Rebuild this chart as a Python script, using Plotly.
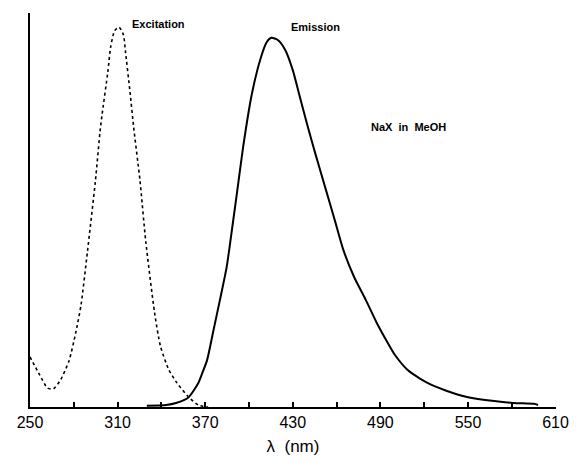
import plotly.graph_objects as go

# Excitation spectrum (dotted)
exc_nm = [250, 256.7, 262, 266, 271, 276.7, 281.3, 285, 289.3, 294.7, 298, 299.3,
          303.3, 305.3, 308, 311, 314, 315.3, 318.5, 321, 325.3, 329.3, 335.3,
          339.3, 345, 350.7, 358.7, 365.3, 372]
exc_val = [12.7, 8.1, 4.8, 4.6, 6.9, 11.7, 18.8, 26, 39.3, 57, 70, 74,
           85, 91.5, 95.5, 96.4, 94.5, 90.5, 80, 71, 57.6, 42, 24,
           15.5, 9.5, 6.1, 2.5, 0.5, 0]

# Emission spectrum (solid)
em_nm = [330, 343.3, 350, 358.7, 365.3, 368, 371.3, 375.3, 380, 384.7, 388.7,
         392, 396, 402, 408, 412, 415.3, 420, 425, 430, 435, 440, 445.3, 452,
         458.7, 464.7, 472, 480, 488, 494.7, 500, 508.7, 521.3, 534.7, 550,
         568, 581.3, 595.3, 598]
em_val = [0.3, 0.5, 1.0, 2.5, 6.1, 8.6, 11.9, 18.8, 27, 35.5, 46,
          55, 66, 79.5, 88.5, 92.5, 93.7, 93.1, 90.5, 85.5, 78.5, 71.5, 64.5, 56,
          47.5, 39.8, 33, 27.2, 21, 16.5, 13.2, 9.4, 6.3, 4.2, 2.5,
          1.5, 1.0, 0.8, 0.5]

tick_vals = [250, 280, 310, 340, 370, 400, 430, 460, 490, 520, 550, 580, 610]
tick_text = ["250", "", "310", "", "370", "", "430", "", "490", "", "550", "", "610"]

fig = go.Figure()
fig.add_trace(go.Scatter(x=exc_nm, y=exc_val, mode="lines",
                         line=dict(color="black", width=1.6, dash="dot", shape="spline",
                                   smoothing=0.6),
                         showlegend=False))
fig.add_trace(go.Scatter(x=em_nm, y=em_val, mode="lines",
                         line=dict(color="black", width=2, shape="spline", smoothing=0.6),
                         showlegend=False))

font_main = "Liberation Sans, Arial, sans-serif"
fig.add_annotation(x=318.7, y=97.2, text="<b>Excitation</b>", showarrow=False,
                   xanchor="left", yanchor="middle",
                   font=dict(family=font_main, size=11, color="black"))
fig.add_annotation(x=427.3, y=96.4, text="<b>Emission</b>", showarrow=False,
                   xanchor="left", yanchor="middle",
                   font=dict(family=font_main, size=11, color="black"))
fig.add_annotation(x=482, y=71, text="<b>NaX  in  MeOH</b>", showarrow=False,
                   xanchor="left", yanchor="middle",
                   font=dict(family=font_main, size=11, color="black"))

fig.update_layout(
    width=570, height=450,
    margin=dict(l=22, r=22, t=5, b=51),
    paper_bgcolor="white", plot_bgcolor="white",
    xaxis=dict(range=[250, 610.3], tickvals=tick_vals, ticktext=tick_text,
               automargin=False,
               ticks="inside", ticklen=5, tickwidth=1.5, tickcolor="black",
               showline=True, linecolor="black", linewidth=2,
               showgrid=False, zeroline=False,
               tickfont=dict(family=font_main, size=16, color="black"),
               title=dict(text="λ  (nm)", standoff=10,
                          font=dict(family=font_main, size=17, color="black"))),
    yaxis=dict(range=[0, 100], showticklabels=False, ticks="", automargin=False,
               showline=True, linecolor="black", linewidth=2,
               showgrid=False, zeroline=False),
)

fig.write_html("out.html")
